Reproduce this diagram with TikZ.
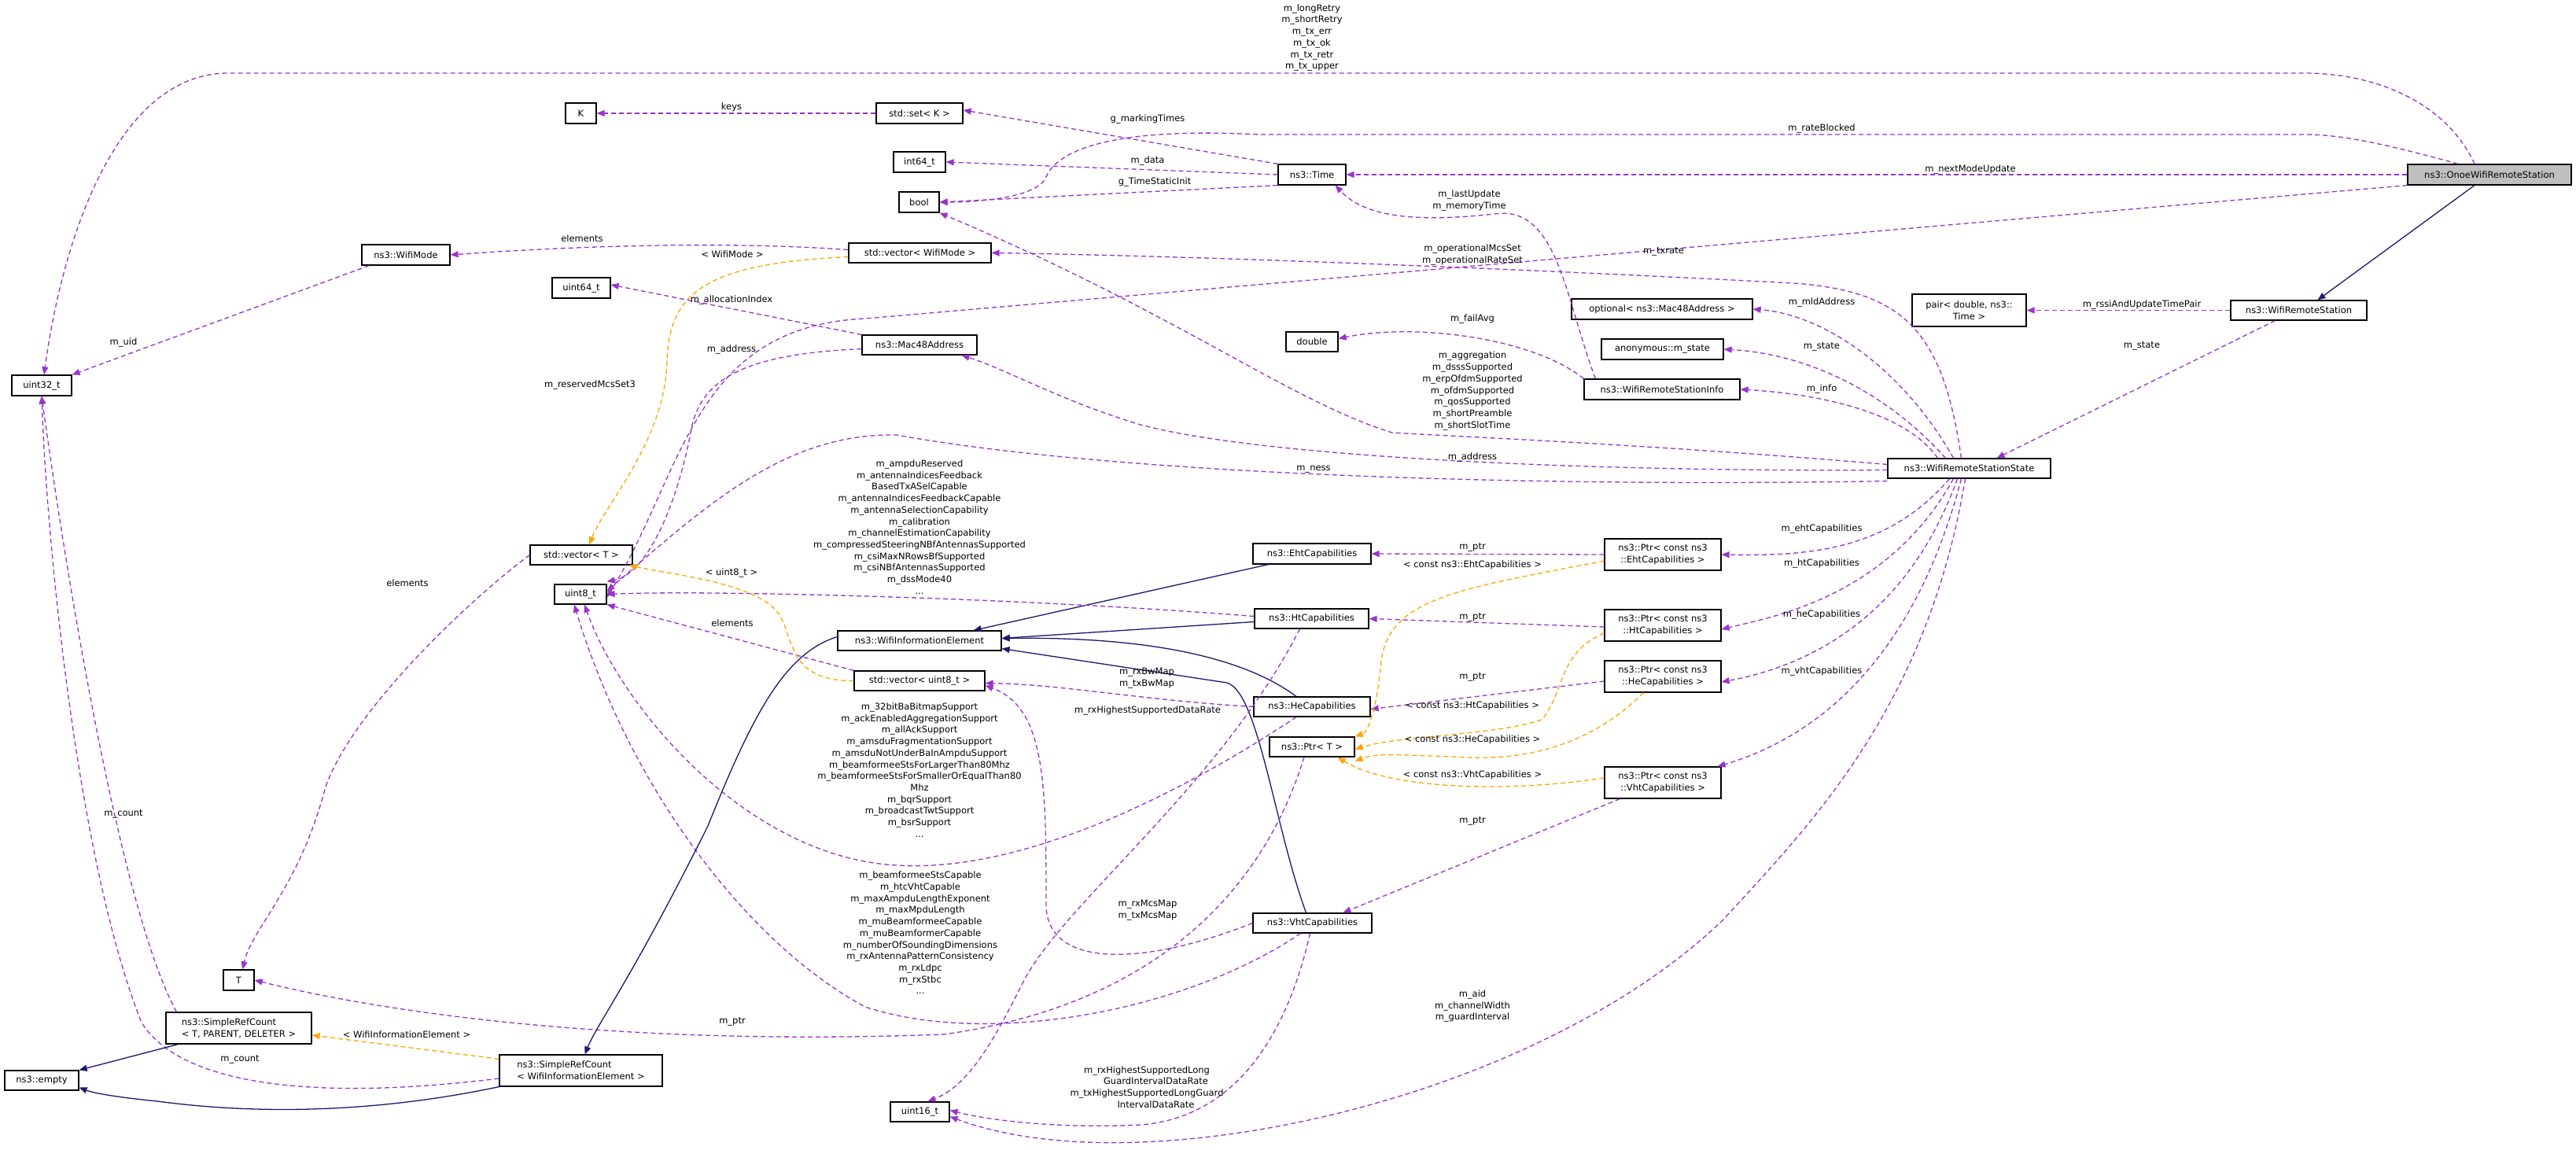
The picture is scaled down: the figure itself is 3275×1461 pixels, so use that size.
\documentclass[tikz,border=0pt]{standalone}
\usepackage{fontspec}
\setmainfont{DejaVu Sans}
\usetikzlibrary{arrows.meta}
\definecolor{mpur}{HTML}{9A32CD}
\definecolor{morg}{HTML}{FFA500}
\definecolor{mnav}{HTML}{191970}
\newcommand\dbox[7][]{\node[box,#1,minimum width={(#5-#3)*1pt},minimum height={(#6-#4)*1pt}] (#2) at ({(#3+#5)/2},{(#4+#6)/2}) {#7};}
\tikzset{
 box/.style={draw=black,line width=1.2pt,fill=white,inner sep=0pt,align=center,font=\fontsize{11.5}{14.7}\selectfont},
 lbl/.style={inner sep=0pt,align=center,font=\fontsize{11.5}{14.7}\selectfont},
 mem/.style={draw=mpur,line width=1.3pt,dash pattern=on 6pt off 4pt,-{Triangle[length=10pt,width=8pt,fill=mpur]}},
 tmpl/.style={draw=morg,line width=1.3pt,dash pattern=on 6pt off 4pt,-{Triangle[length=10pt,width=8pt,fill=morg]}},
 inh/.style={draw=mnav,line width=1.3pt,-{Triangle[length=10pt,width=8pt,fill=mnav]}}
}
\begin{document}
\begin{tikzpicture}[x=1pt,y=-1pt]
\fill[white] (0,0) rectangle (3275,1461);
\useasboundingbox (0,0) rectangle (3275,1461);
% nodes
\dbox[fill=black!25]{onoe}{3061}{209}{3269}{235}{ns3::OnoeWifiRemoteStation}
\dbox{wrs}{2836}{382}{3009}{407}{ns3::WifiRemoteStation}
\dbox{pair}{2431}{374}{2576}{415}{pair< double, ns3::\\Time >}
\dbox{wrss}{2400}{583}{2607}{608}{ns3::WifiRemoteStationState}
\dbox{optmac}{1998}{380}{2228}{406}{optional< ns3::Mac48Address >}
\dbox{anon}{2036}{431}{2191}{457}{anonymous::m\_state}
\dbox{wrsi}{2014}{482}{2212}{508}{ns3::WifiRemoteStationInfo}
\dbox{time}{1625}{209}{1711}{235}{ns3::Time}
\dbox{setk}{1114}{131}{1224}{157}{std::set< K >}
\dbox{k}{719}{131}{758}{157}{K}
\dbox{int64}{1136}{193}{1202}{219}{int64\_t}
\dbox{bool}{1143}{244}{1194}{270}{bool}
\dbox{vecwm}{1079}{309}{1260}{334}{std::vector< WifiMode >}
\dbox{wifimode}{460}{311}{572}{337}{ns3::WifiMode}
\dbox{uint64}{702}{353}{776}{379}{uint64\_t}
\dbox{mac48}{1096}{426}{1242}{451}{ns3::Mac48Address}
\dbox{double}{1635}{422}{1701}{447}{double}
\dbox{uint32}{15}{477}{91}{503}{uint32\_t}
\dbox{vect}{674}{693}{804}{718}{std::vector< T >}
\dbox{uint8}{705}{743}{771}{768}{uint8\_t}
\dbox{eht}{1593}{691}{1743}{717}{ns3::EhtCapabilities}
\dbox{ht}{1595}{774}{1740}{799}{ns3::HtCapabilities}
\dbox{wie}{1065}{802}{1273}{827}{ns3::WifiInformationElement}
\dbox{vecu8}{1086}{853}{1252}{878}{std::vector< uint8\_t >}
\dbox{he}{1594}{886}{1742}{911}{ns3::HeCapabilities}
\dbox{ptrt}{1614}{937}{1722}{962}{ns3::Ptr< T >}
\dbox{ptreht}{2040}{685}{2188}{725}{ns3::Ptr< const ns3\\::EhtCapabilities >}
\dbox{ptrht}{2040}{775}{2188}{815}{ns3::Ptr< const ns3\\::HtCapabilities >}
\dbox{ptrhe}{2040}{840}{2188}{880}{ns3::Ptr< const ns3\\::HeCapabilities >}
\dbox{ptrvht}{2040}{975}{2188}{1015}{ns3::Ptr< const ns3\\::VhtCapabilities >}
\dbox{vht}{1593}{1161}{1744}{1186}{ns3::VhtCapabilities}
\dbox{uint16}{1132}{1401}{1207}{1426}{uint16\_t}
\dbox{t}{284}{1233}{323}{1259}{T}
\dbox[align=left]{srct}{211}{1287}{396}{1327}{ns3::SimpleRefCount\\< T, PARENT, DELETER >}
\dbox[align=left]{srcw}{635}{1341}{842}{1381}{ns3::SimpleRefCount\\< WifiInformationElement >}
\dbox{empty}{6}{1361}{100}{1386}{ns3::empty}
% edges
\draw[mem] ([xshift=-19pt]onoe.north) .. controls (3110,130) and (3020,93) .. (2930,93) -- (290,93) .. controls (150,93) and (80,300) .. ([xshift=3pt]uint32.north);
\draw[mem] ([xshift=-40pt]onoe.north) .. controls (3040,185) and (2980,171) .. (2930,171) -- (1600,171) .. controls (1390,160) and (1340,200) .. (1330,225) .. controls (1320,250) and (1250,257) .. (bool.east);
\draw[mem] (onoe.west) -- (time.east);
\draw[mem] (onoe.south west) -- (1100,405) .. controls (880,415) and (870,600) .. ([yshift=-4pt]uint8.east);
\draw[inh] ([xshift=-19pt]onoe.south) -- ([xshift=24pt]wrs.north);
\draw[mem] (wrs.west) -- (pair.east);
\draw[mem] ([xshift=-30pt]wrs.south) -- ([xshift=35pt]wrss.north);
\draw[mem] (setk.west) -- (k.east);
\draw[mem] (time.north west) -- ([yshift=4pt]setk.east);
\draw[mem] (time.west) -- (int64.east);
\draw[mem] (time.south west) -- (bool.east);
\draw[mem] ([xshift=10pt]wifimode.south west) -- (uint32.north east);
\draw[mem] ([yshift=4pt]vecwm.west) .. controls (900,305) and (700,315) .. (wifimode.east);
\draw[tmpl] ([yshift=-5pt]vecwm.west) .. controls (900,335) and (850,370) .. (848,460) .. controls (845,560) and (770,640) .. ([xshift=10pt]vect.north);
\draw[mem] (mac48.north west) -- ([yshift=4pt]uint64.east);
\draw[mem] ([yshift=-5pt]mac48.west) .. controls (950,450) and (895,480) .. (880,540) .. controls (860,650) and (820,730) .. ([yshift=3pt]uint8.north east);
\draw[mem] (wrsi.north west) .. controls (1950,430) and (1800,410) .. ([yshift=4pt]double.east);
\draw[mem] ([xshift=15pt]wrsi.north west) .. controls (1990,380) and (1980,260) .. (1900,272) .. controls (1780,285) and (1730,270) .. ([xshift=-14pt]time.south east);
\draw[mem] ([xshift=-20pt]wrss.north) .. controls (2420,470) and (2320,400) .. (optmac.east);
\draw[mem] ([xshift=-30pt]wrss.north) .. controls (2400,500) and (2300,450) .. (anon.east);
\draw[mem] ([xshift=-40pt]wrss.north) .. controls (2420,520) and (2300,500) .. (wrsi.east);
\draw[mem] ([xshift=-10pt]wrss.north) .. controls (2470,420) and (2420,370) .. (2280,360) .. controls (1900,340) and (1500,325) .. (vecwm.east);
\draw[mem] ([yshift=5pt]wrss.west) .. controls (2100,565) and (1850,555) .. (1770,550) .. controls (1640,510) and (1500,400) .. (bool.south east);
\draw[mem] ([yshift=-2pt]wrss.west) .. controls (2000,600) and (1600,580) .. (1450,540) .. controls (1350,510) and (1280,470) .. ([xshift=-20pt]mac48.south east);
\draw[mem] ([yshift=-3pt]wrss.south west) .. controls (1900,620) and (1400,600) .. (1140,553) .. controls (1000,550) and (900,640) .. ([yshift=4pt]uint8.east);
\draw[mem] ([xshift=-25pt]wrss.south) .. controls (2400,700) and (2300,707) .. (ptreht.east);
\draw[mem] ([xshift=-20pt]wrss.south) .. controls (2400,760) and (2250,785) .. ([yshift=-5pt]ptrht.east);
\draw[mem] ([xshift=-15pt]wrss.south) .. controls (2420,800) and (2280,850) .. ([yshift=-7pt]ptrhe.east);
\draw[mem] ([xshift=-10pt]wrss.south) .. controls (2430,850) and (2300,940) .. ([xshift=-5pt]ptrvht.north east);
\draw[mem] ([xshift=-5pt]wrss.south) .. controls (2450,900) and (2300,1050) .. (2190,1170) .. controls (1950,1400) and (1450,1510) .. ([yshift=-6pt]uint16.east);
\draw[mem] (ptreht.west) -- (eht.east);
\draw[mem] ([yshift=-2pt]ptrht.west) -- (ht.east);
\draw[mem] ([yshift=-6pt]ptrhe.west) -- ([yshift=-3pt]he.east);
\draw[mem] ([xshift=20pt]ptrvht.south west) -- ([xshift=39pt]vht.north);
\draw[tmpl] ([yshift=-8pt]ptreht.west) .. controls (1850,750) and (1760,760) .. (1755,850) .. controls (1750,900) and (1740,930) .. (ptrt.north east);
\draw[tmpl] ([yshift=-10pt]ptrht.west) .. controls (1980,830) and (1990,880) .. (1960,915) .. controls (1900,935) and (1780,935) .. ([yshift=-3pt]ptrt.east);
\draw[tmpl] ([xshift=50pt]ptrhe.south west) .. controls (2030,940) and (1950,970) .. (1850,962) .. controls (1780,960) and (1750,957) .. ([yshift=-5pt]ptrt.south east);
\draw[tmpl] ([yshift=6pt]ptrvht.west) .. controls (1900,1010) and (1760,1000) .. ([xshift=-22pt]ptrt.south east);
\draw[inh] ([xshift=20pt]eht.south west) -- ([xshift=-36pt]wie.north east);
\draw[inh] ([yshift=-4pt]ht.west) -- ([yshift=3pt]wie.east);
\draw[inh] ([xshift=-20pt]he.north) .. controls (1560,820) and (1400,810) .. ([yshift=3pt]wie.east);
\draw[inh] ([xshift=-8pt]vht.north) .. controls (1620,1050) and (1600,880) .. (1560,868) -- ([yshift=3pt]wie.south east);
\draw[mem] ([yshift=3pt]ht.west) .. controls (1300,760) and (900,750) .. (uint8.east);
\draw[mem] (vecu8.north west) -- (uint8.south east);
\draw[tmpl] (vecu8.west) .. controls (1000,866) and (1010,810) .. (990,780) .. controls (960,740) and (850,730) .. ([xshift=-5pt]vect.south east);
\draw[mem] (he.west) .. controls (1450,890) and (1350,870) .. ([yshift=-3pt]vecu8.east);
\draw[mem] ([xshift=-20pt]he.south) .. controls (1500,1010) and (1300,1110) .. (1140,1100) .. controls (950,1090) and (790,900) .. ([xshift=5pt]uint8.south);
\draw[mem] ([xshift=-15pt]ht.south) .. controls (1550,1000) and (1350,1150) .. (1300,1250) .. controls (1260,1330) and (1230,1380) .. ([xshift=10pt]uint16.north);
\draw[mem] (vht.west) .. controls (1450,1230) and (1330,1230) .. (1330,1150) .. controls (1330,1000) and (1330,900) .. ([yshift=-6pt]vecu8.east);
\draw[mem] ([xshift=-15pt]vht.south) .. controls (1500,1290) and (1250,1330) .. (1100,1280) .. controls (950,1200) and (800,1000) .. ([xshift=-8pt]uint8.south);
\draw[mem] ([xshift=-3pt]vht.south) .. controls (1640,1300) and (1580,1420) .. (1450,1430) .. controls (1350,1435) and (1260,1425) .. ([yshift=2pt]uint16.east);
\draw[mem] ([xshift=-10pt]ptrt.south) .. controls (1600,1150) and (1450,1280) .. (1200,1315) .. controls (800,1330) and (500,1290) .. (t.east);
\draw[mem] (vect.west) .. controls (600,760) and (450,900) .. (414,1000) .. controls (380,1130) and (320,1180) .. ([xshift=5pt]t.north);
\draw[mem] ([xshift=14pt]srct.north west) .. controls (150,1150) and (80,700) .. (uint32.south);
\draw[mem] ([yshift=-10pt]srcw.west) .. controls (400,1400) and (230,1380) .. (180,1300) .. controls (100,1100) and (60,700) .. (uint32.south);
\draw[tmpl] ([yshift=-6pt]srcw.north west) -- ([yshift=-9pt]srct.east);
\draw[inh] ([xshift=16pt]srct.south west) -- (empty.north east);
\draw[inh] (srcw.south west) .. controls (500,1410) and (350,1420) .. (200,1400) .. controls (150,1395) and (120,1390) .. ([yshift=-9pt]empty.east);
\draw[inh] ([yshift=5pt]wie.west) .. controls (1000,830) and (960,900) .. (900,1050) .. controls (800,1250) and (760,1300) .. ([xshift=5pt]srcw.north);
% labels
\node[lbl] (l1) at (1668,48) {m\_longRetry\\m\_shortRetry\\m\_tx\_err\\m\_tx\_ok\\m\_tx\_retr\\m\_tx\_upper};
\node[lbl] (l2) at (2316,163) {m\_rateBlocked};
\node[lbl] (l3) at (2505,215) {m\_nextModeUpdate};
\node[lbl] (l4) at (930,136) {keys};
\node[lbl] (l5) at (1459,151) {g\_markingTimes};
\node[lbl] (l6) at (1459,204) {m\_data};
\node[lbl] (l7) at (1468,231) {g\_TimeStaticInit};
\node[lbl] (l8) at (1868,255) {m\_lastUpdate\\m\_memoryTime};
\node[lbl] (l9) at (740,303) {elements};
\node[lbl] (l10) at (931,323) {< WifiMode >};
\node[lbl] (l11) at (1872,324) {m\_operationalMcsSet\\m\_operationalRateSet};
\node[lbl] (l12) at (2115,320) {m\_txrate};
\node[lbl] (l13) at (930,381) {m\_allocationIndex};
\node[lbl] (l14) at (930,444) {m\_address};
\node[lbl] (l15) at (157,435) {m\_uid};
\node[lbl] (l16) at (750,489) {m\_reservedMcsSet3};
\node[lbl] (l17) at (1872,405) {m\_failAvg};
\node[lbl] (l18) at (1872,497) {m\_aggregation\\m\_dsssSupported\\m\_erpOfdmSupported\\m\_ofdmSupported\\m\_qosSupported\\m\_shortPreamble\\m\_shortSlotTime};
\node[lbl] (l19) at (2316,384) {m\_mldAddress};
\node[lbl] (l20) at (2316,441) {m\_state};
\node[lbl] (l21) at (2316,494) {m\_info};
\node[lbl] (l22) at (2723,387) {m\_rssiAndUpdateTimePair};
\node[lbl] (l23) at (2723,440) {m\_state};
\node[lbl] (l24) at (1872,581) {m\_address};
\node[lbl] (l25) at (1670,597) {m\_ness};
\node[lbl] (l26) at (1169,670) {m\_ampduReserved\\m\_antennaIndicesFeedback\\BasedTxASelCapable\\m\_antennaIndicesFeedbackCapable\\m\_antennaSelectionCapability\\m\_calibration\\m\_channelEstimationCapability\\m\_compressedSteeringNBfAntennasSupported\\m\_csiMaxNRowsBfSupported\\m\_csiNBfAntennasSupported\\m\_dssMode40\\...};
\node[lbl] (l27) at (1169,979) {m\_32bitBaBitmapSupport\\m\_ackEnabledAggregationSupport\\m\_allAckSupport\\m\_amsduFragmentationSupport\\m\_amsduNotUnderBaInAmpduSupport\\m\_beamformeeStsForLargerThan80Mhz\\m\_beamformeeStsForSmallerOrEqualThan80\\Mhz\\m\_bqrSupport\\m\_broadcastTwtSupport\\m\_bsrSupport\\...};
\node[lbl] (l28) at (1170,1186) {m\_beamformeeStsCapable\\m\_htcVhtCapable\\m\_maxAmpduLengthExponent\\m\_maxMpduLength\\m\_muBeamformeeCapable\\m\_muBeamformerCapable\\m\_numberOfSoundingDimensions\\m\_rxAntennaPatternConsistency\\m\_rxLdpc\\m\_rxStbc\\...};
\node[lbl] (l29) at (930,728) {< uint8\_t >};
\node[lbl] (l30) at (931,792) {elements};
\node[lbl] (l31) at (518,741) {elements};
\node[lbl] (l32) at (1872,696) {m\_ptr};
\node[lbl] (l33) at (1872,718) {< const ns3::EhtCapabilities >};
\node[lbl] (l34) at (1872,785) {m\_ptr};
\node[lbl] (l35) at (1872,861) {m\_ptr};
\node[lbl] (l36) at (1872,897) {< const ns3::HtCapabilities >};
\node[lbl] (l37) at (1872,940) {< const ns3::HeCapabilities >};
\node[lbl] (l38) at (1872,985) {< const ns3::VhtCapabilities >};
\node[lbl] (l39) at (1872,1044) {m\_ptr};
\node[lbl] (l40) at (2316,672) {m\_ehtCapabilities};
\node[lbl] (l41) at (2316,716) {m\_htCapabilities};
\node[lbl] (l42) at (2316,781) {m\_heCapabilities};
\node[lbl] (l43) at (2316,853) {m\_vhtCapabilities};
\node[lbl] (l44) at (1458,862) {m\_rxBwMap\\m\_txBwMap};
\node[lbl] (l45) at (1459,903) {m\_rxHighestSupportedDataRate};
\node[lbl] (l46) at (1459,1157) {m\_rxMcsMap\\m\_txMcsMap};
\node[lbl] (l47) at (1458,1382) {m\_rxHighestSupportedLong\\\hspace*{2em}GuardIntervalDataRate\\m\_txHighestSupportedLongGuard\\\hspace*{2em}IntervalDataRate};
\node[lbl] (l48) at (1872,1279) {m\_aid\\m\_channelWidth\\m\_guardInterval};
\node[lbl] (l49) at (931,1299) {m\_ptr};
\node[lbl] (l50) at (157,1035) {m\_count};
\node[lbl] (l51) at (305,1347) {m\_count};
\node[lbl] (l52) at (517,1315) {< WifiInformationElement >};
\end{tikzpicture}
\end{document}
